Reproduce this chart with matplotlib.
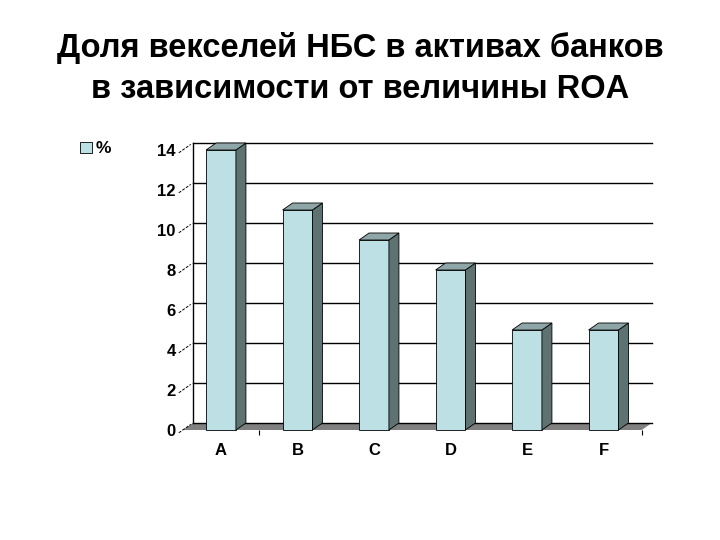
import matplotlib
matplotlib.use("Agg")
import matplotlib.pyplot as plt
from matplotlib.patches import Polygon, Rectangle

categories = ["A", "B", "C", "D", "E", "F"]
values = [14, 11, 9.5, 8, 5, 5]
yticks = [0, 2, 4, 6, 8, 10, 12, 14]
legend_label = "%"
title_lines = ["Доля векселей НБС в активах банков", "в зависимости от величины ROA"]

FRONT = "#BDE0E4"
SIDE = "#5F7272"
TOP = "#8FA6A8"
FLOOR = "#808080"
FONT = "Liberation Sans"

plt.rcParams["font.family"] = [FONT, "DejaVu Sans"]

fig = plt.figure(figsize=(7.2, 5.4), dpi=100)
ax = fig.add_axes([182.75 / 720, 110 / 540, 459 / 720, 280 / 540])
n = len(categories)
ax.set_xlim(-0.5, n - 0.5)
ax.set_ylim(0, 14)
for s in ax.spines.values():
    s.set_visible(False)

# depth offsets in data units (10 px right, 7 px up)
p0 = ax.transData.transform((0, 0))
p1 = ax.transData.transform((1, 1))
ddx = 10 / (p1[0] - p0[0])
ddy = 7 / (p1[1] - p0[1])

x0, x1 = -0.5, n - 0.5
# floor
ax.add_patch(Polygon([(x0, 0), (x1, 0), (x1 + ddx, ddy), (x0 + ddx, ddy)],
                     closed=True, facecolor=FLOOR, edgecolor="none", zorder=1, clip_on=False))
# back wall gridlines and left edge
for v in yticks:
    ax.plot([x0 + ddx, x1 + ddx], [v + ddy, v + ddy], color="black", lw=1.0, zorder=1.5, clip_on=False)
    ax.plot([x0 - 0.4 * ddx, x0 + 0.8 * ddx], [v - 0.4 * ddy, v + 0.8 * ddy], color="black",
            lw=0.7, ls=(0, (3, 1.5)), zorder=1.5, clip_on=False)
ax.plot([x0 + ddx, x0 + ddx], [ddy, yticks[-1] + ddy], color="black", lw=1.0, zorder=1.5, clip_on=False)

w = 0.39
xs = list(range(n))
ax.bar(xs, values, width=w, color=FRONT, edgecolor="black", linewidth=0.6, zorder=3, clip_on=False)
for x, v in zip(xs, values):
    r = x + w / 2
    l = x - w / 2
    ax.add_patch(Polygon([(r, 0), (r + ddx, ddy), (r + ddx, v + ddy), (r, v)], closed=True,
                         facecolor=SIDE, edgecolor="black", lw=0.6, zorder=3, clip_on=False))
    ax.add_patch(Polygon([(l, v), (l + ddx, v + ddy), (r + ddx, v + ddy), (r, v)], closed=True,
                         facecolor=TOP, edgecolor="black", lw=0.6, zorder=3, clip_on=False))

ax.set_yticks(yticks)
ax.set_yticklabels([str(v) for v in yticks], fontsize=12, fontweight="bold")
ax.tick_params(axis="y", length=0, pad=5)
ax.set_xticks(xs)
ax.set_xticklabels(categories, fontsize=12, fontweight="bold")
ax.tick_params(axis="x", which="major", length=0, pad=9.5)
ax.set_xticks([0.5, n - 0.5], minor=True)
ax.tick_params(axis="x", which="minor", length=3.6, width=0.8, direction="out")

# legend
fig.patches.append(Rectangle((80 / 720, 1 - 153 / 540), 12 / 720, 11 / 540, transform=fig.transFigure,
                             facecolor=FRONT, edgecolor="black", lw=0.6))
fig.text(96 / 720, 1 - 148 / 540, legend_label, fontsize=12.5, fontweight="bold", va="center", ha="left")

fig.text(0.5, 1 - 57.5 / 540, title_lines[0], fontsize=23.5, fontweight="bold", ha="center", va="baseline")
fig.text(0.5, 1 - 98.5 / 540, title_lines[1], fontsize=23.5, fontweight="bold", ha="center", va="baseline")

fig.savefig("out.png", dpi=100)
